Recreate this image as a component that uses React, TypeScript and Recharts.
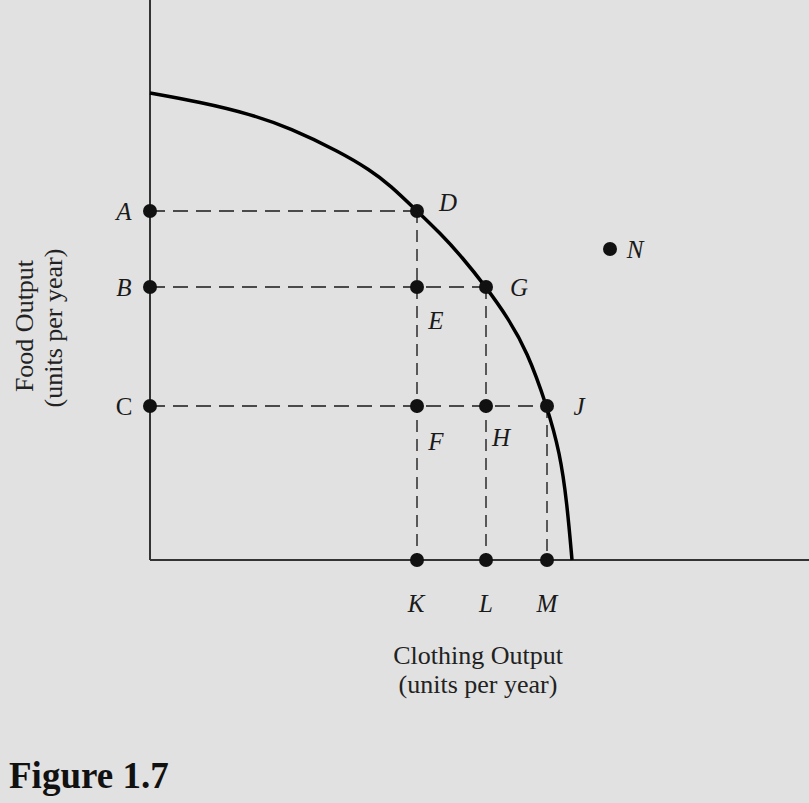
import {
  ComposedChart,
  Line,
  Scatter,
  XAxis,
  YAxis,
  ReferenceLine,
} from 'recharts';

// production possibilities frontier (arbitrary units)
const frontierClothing = [0, 5, 10, 14, 19, 22, 24, 26.7, 29, 31.2, 33.6, 35.8, 37.7, 39.7, 41, 41.7, 42.2];
const frontierFood = [46.7, 45.8, 44.6, 43.2, 40.8, 39.0, 37.5, 34.9, 32.7, 30.3, 27.3, 24.2, 20.9, 15.4, 10.7, 5.7, 0];

// labelled points
const pointNames = ['A', 'B', 'C', 'D', 'E', 'F', 'G', 'H', 'J', 'K', 'L', 'M', 'N'];
const pointClothing = [0, 0, 0, 26.7, 26.7, 26.7, 33.6, 33.6, 39.7, 26.7, 33.6, 39.7, 46];
const pointFood = [34.9, 27.3, 15.4, 34.9, 27.3, 15.4, 27.3, 15.4, 15.4, 0, 0, 0, 31.1];

// dashed guide lines: [x1, y1, x2, y2]
const guides = [
  [0, 34.9, 26.7, 34.9],
  [0, 27.3, 33.6, 27.3],
  [0, 15.4, 39.7, 15.4],
  [26.7, 34.9, 26.7, 0],
  [33.6, 27.3, 33.6, 0],
  [39.7, 15.4, 39.7, 0],
];

const frontier = frontierClothing.map((x, i) => ({ x, food: frontierFood[i] }));
const points = pointNames.map((name, i) => ({ name, x: pointClothing[i], y: pointFood[i] }));

// label placement relative to each dot (px)
const labelOffset: Record<string, [number, number]> = {
  A: [-26, 9], B: [-26, 9], C: [-26, 9],
  D: [31, 0], G: [33, 9], J: [32, 9],
  E: [19, 42], F: [19, 44], H: [15, 40],
  K: [-1, 52], L: [0, 52], M: [0, 52],
  N: [25, 9],
};

const serif = '"Liberation Serif", "DejaVu Serif", serif';
const BG = '#e1e1e1';

function PointMark(props: any) {
  const { cx, cy, payload } = props;
  const [dx, dy] = labelOffset[payload.name];
  return (
    <g>
      <circle cx={cx} cy={cy} r={7} fill="#111" />
      <text
        x={cx + dx}
        y={cy + dy}
        textAnchor="middle"
        fontFamily={serif}
        fontSize={25}
        fontStyle={payload.name === 'C' ? 'normal' : 'italic'}
        fill="#1a1a1a"
      >
        {payload.name}
      </text>
    </g>
  );
}

export default function App() {
  return (
    <div style={{ position: 'absolute', left: 0, top: 0, width: 809, height: 803, background: BG }}>
      <ComposedChart
        width={809}
        height={803}
        data={frontier}
        margin={{ top: 0, right: 0, left: 150, bottom: 243 }}
      >
        <XAxis type="number" dataKey="x" domain={[0, 65.9]} hide />
        <YAxis type="number" domain={[0, 56]} hide />
        {guides.map((g, i) => (
          <ReferenceLine
            key={i}
            segment={[{ x: g[0], y: g[1] }, { x: g[2], y: g[3] }]}
            stroke="#4a4a4a"
            strokeWidth={1.8}
            strokeDasharray={g[1] === g[3] ? '15 8' : '12 7'}
          />
        ))}
        <ReferenceLine x={0} stroke="#333" strokeWidth={2} />
        <ReferenceLine y={0} stroke="#333" strokeWidth={2} />
        <Line
          type="basis"
          dataKey="food"
          stroke="#000"
          strokeWidth={3.5}
          dot={false}
          isAnimationActive={false}
        />
        <Scatter data={points} dataKey="y" shape={PointMark} isAnimationActive={false} />
        <text x={478} y={664} textAnchor="middle" fontFamily={serif} fontSize={26} fill="#222">
          Clothing Output
        </text>
        <text x={478} y={693} textAnchor="middle" fontFamily={serif} fontSize={26} fill="#222">
          (units per year)
        </text>
        <text
          transform="translate(33,326) rotate(-90)"
          textAnchor="middle"
          fontFamily={serif}
          fontSize={26}
          fill="#222"
        >
          Food Output
        </text>
        <text
          transform="translate(62,328) rotate(-90)"
          textAnchor="middle"
          fontFamily={serif}
          fontSize={26}
          fill="#222"
        >
          (units per year)
        </text>
        <text x={9} y={788} fontFamily={serif} fontSize={37} fontWeight="bold" fill="#111">
          Figure 1.7
        </text>
      </ComposedChart>
    </div>
  );
}
